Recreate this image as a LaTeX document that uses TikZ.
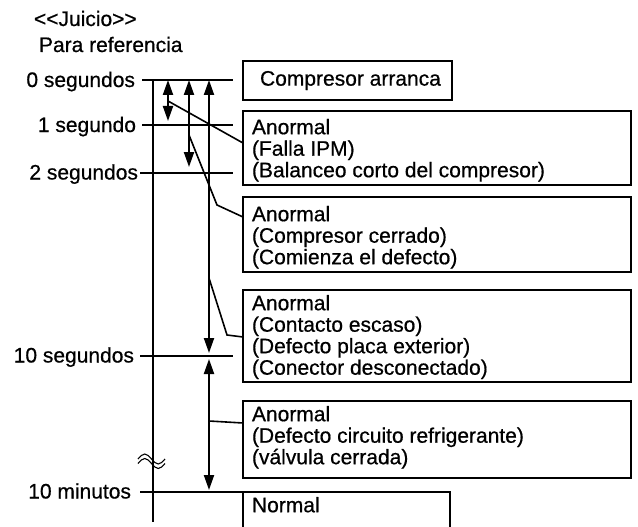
\documentclass[tikz,border=0pt]{standalone}
\usepackage{fontspec}
\setmainfont{Liberation Sans}[FakeBold=0.6]
\usetikzlibrary{arrows.meta,calc}
\begin{document}
\begin{tikzpicture}[x=1pt,y=-1pt,line width=2pt,
  every node/.style={font=\fontsize{21}{21.5}\selectfont,inner sep=0pt,outer sep=0pt},
  boxnode/.style={draw,rectangle,anchor=north west,minimum width=388pt},
  txt/.style={anchor=north west,align=left},
  lbl/.style={anchor=base east},
  tip/.tip={Triangle[length=15pt,width=10pt]},
  darr/.style={tip-tip},
  leader/.style={line width=1.6pt},
  brk/.style={line width=1.1pt}]
\useasboundingbox (0,0) rectangle (638,527);
% titles
\node[anchor=base west] (tj) at (34,26) {<{}<Juicio>{}>};
\node[anchor=base west] (tp) at (39,52) {Para referencia};
% main time axis
\coordinate (vt) at (153,80);
\coordinate (vb) at (153,522);
\draw (vt) -- (vb);
% ticks
\coordinate (t0a) at (142,80);  \coordinate (t0b) at (233,80);
\coordinate (t1a) at (142,125); \coordinate (t1b) at (233,125);
\coordinate (t2a) at (140,173); \coordinate (t2b) at (233,173);
\coordinate (t3a) at (140,356); \coordinate (t3b) at (233,356);
\coordinate (t4a) at (140,492); \coordinate (t4b) at (450,492);
\draw (t0a) -- (t0b);
\draw (t1a) -- (t1b);
\draw (t2a) -- (t2b);
\draw (t3a) -- (t3b);
\draw (t4a) -- (t4b);
% tick labels
\node[lbl] (l0) at (135,87) {0 segundos};
\node[lbl] (l1) at (136,132) {1 segundo};
\node[lbl] (l2) at (138,179.5) {2 segundos};
\node[lbl] (l3) at (134,362.5) {10 segundos};
\node[lbl] (l4) at (131,498.5) {10 minutos};
% break symbol
\draw[brk] (138,459) sin (144.75,454) cos (151.5,459) sin (158.25,464) cos (165,459);
\draw[brk] (138,463.5) sin (144.75,458.5) cos (151.5,463.5) sin (158.25,468.5) cos (165,463.5);
% boxes
\node[draw,rectangle,anchor=north west,minimum width=209pt,minimum height=39pt] (cmp) at (243,61) {};
\node (cmptxt) at ($(cmp.center)+(3,0)$) {Compresor arranca};
\node[boxnode,minimum height=74pt] (a1) at (243,111) {};
\node[boxnode,minimum height=75pt] (a2) at (243,197) {};
\node[boxnode,minimum height=92pt] (a3) at (243,290) {};
\node[boxnode,minimum height=77pt] (a4) at (243,401) {};
\node[txt] (x1) at (252,119) {Anormal\\(Falla IPM)\\(Balanceo corto del compresor)};
\node[txt] (x2) at (252,206) {Anormal\\(Compresor cerrado)\\(Comienza el defecto)};
\node[txt] (x3) at (252,295) {Anormal\\(Contacto escaso)\\(Defecto placa exterior)\\(Conector desconectado)};
\node[txt] (x4) at (252,406) {Anormal\\(Defecto circuito refrigerante)\\(válvula cerrada)};
% normal box (open at the bottom edge of the picture)
\coordinate (nbl) at (243,527);
\coordinate (ntl) at (243,492);
\coordinate (ntr) at (450,492);
\coordinate (nbr) at (450,527);
\draw (nbl) -- (ntl) -- (ntr) -- (nbr);
\node[txt] (xn) at (252,497) {Normal};
% arrows
\coordinate (a1t) at (168,80);  \coordinate (a1b) at (168,121);
\coordinate (a2t) at (189,80);  \coordinate (a2b) at (189,167);
\coordinate (a3t) at (209,80);  \coordinate (a3b) at (209,353);
\coordinate (a4t) at (209,359); \coordinate (a4b) at (209,490);
\draw[darr] (a1t) -- (a1b);
\draw[darr] (a2t) -- (a2b);
\draw[darr] (a3t) -- (a3b);
\draw[darr] (a4t) -- (a4b);
% leaders
\coordinate (p1) at (168,101);
\coordinate (p2) at (189,135); \coordinate (q2) at (217,205);
\coordinate (p3) at (209,278); \coordinate (q3) at (227,335);
\coordinate (p4) at (209,421);
\draw[leader] (p1) -- ($(a1.north west)+(0,32)$);
\draw[leader] (p2) -- (q2) -- ($(a2.north west)+(0,20)$);
\draw[leader] (p3) -- (q3) -- ($(a3.north west)+(0,47)$);
\draw[leader] (p4) -- ($(a4.north west)+(0,22)$);
\end{tikzpicture}
\end{document}
